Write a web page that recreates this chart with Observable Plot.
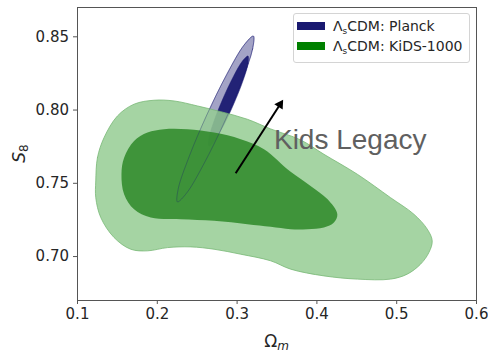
<!DOCTYPE html>
<html><head><meta charset="utf-8">
<script src="https://cdn.jsdelivr.net/npm/d3@7"></script>
<script src="https://cdn.jsdelivr.net/npm/@observablehq/plot@0.6"></script>
<style>
body{margin:0;background:#fff;}
#wrap{position:relative;width:488px;height:355px;}
.legend{position:absolute;left:293px;top:13px;width:175px;height:48px;border:1px solid #d4d4d4;border-radius:3px;background:rgba(255,255,255,0.8);font-family:"DejaVu Sans";font-size:14px;color:#262626;}
.item{position:absolute;left:3px;height:20px;display:flex;align-items:center;white-space:nowrap;}
.sw{width:28px;height:8px;margin-right:8px;}
.item sub{font-size:9px;vertical-align:-3px;line-height:0;}
</style></head>
<body>
<div id="wrap"></div>
<script>
// ---- data ----
const xTicks = [0.1, 0.2, 0.3, 0.4, 0.5, 0.6];
const yTicks = [0.70, 0.75, 0.80, 0.85];

const kidsOuterX = [0.1229,0.1250,0.1333,0.1501,0.1709,0.1959,0.2210,0.2503,0.2794,0.3129,0.3421,0.3796,0.4088,0.4506,0.4923,0.5215,0.5383,0.5445,0.5403,0.5299,0.5132,0.4923,0.4506,0.4088,0.3671,0.3421,0.3045,0.2711,0.2419,0.2127,0.1877,0.1667,0.1458,0.1292,0.1229];
const kidsOuterY = [0.7516,0.7675,0.7812,0.7960,0.8040,0.8067,0.8062,0.8028,0.7989,0.7937,0.7871,0.7796,0.7698,0.7562,0.7402,0.7289,0.7187,0.7107,0.7027,0.6948,0.6880,0.6846,0.6846,0.6868,0.6914,0.6971,0.7016,0.7050,0.7066,0.7061,0.7039,0.7050,0.7130,0.7266,0.7402];

const kidsInnerX = [0.1551,0.1584,0.1709,0.1877,0.2084,0.2377,0.2711,0.3045,0.3337,0.3671,0.3921,0.4131,0.4256,0.4213,0.4088,0.3880,0.3671,0.3421,0.3129,0.2711,0.2294,0.1918,0.1709,0.1584];
const kidsInnerY = [0.7562,0.7675,0.7789,0.7846,0.7869,0.7869,0.7846,0.7801,0.7733,0.7578,0.7482,0.7392,0.7289,0.7232,0.7198,0.7187,0.7187,0.7203,0.7221,0.7244,0.7255,0.7266,0.7323,0.7426];

const planckOuterX = [0.3204,0.3194,0.3059,0.2836,0.2584,0.2370,0.2252,0.2262,0.2397,0.2620,0.2872,0.3086];
const planckOuterY = [0.8505,0.8416,0.8199,0.7912,0.7633,0.7435,0.7373,0.7462,0.7679,0.7966,0.8245,0.8443];

const planckInnerX = [0.3136,0.3138,0.3074,0.2961,0.2830,0.2715,0.2648,0.2646,0.2710,0.2823,0.2954,0.3069];
const planckInnerY = [0.8369,0.8319,0.8201,0.8046,0.7894,0.7788,0.7755,0.7804,0.7923,0.8078,0.8229,0.8336];

const arrowX = [0.2982, 0.3538];
const arrowY = [0.7569, 0.8038];

const noteText = ["Kids Legacy"];
const noteX = [0.3462];
const noteY = [0.7737];

const legendLabels = ["Planck", "KiDS-1000"];

// ---- helpers ----
function shape(X, Y, opts) {
  return Plot.line(d3.range(X.length), {x: i => X[i], y: i => Y[i], curve: "catmull-rom-closed", ...opts});
}

const plot = Plot.plot({
  width: 488, height: 355,
  marginLeft: 77, marginRight: 12, marginTop: 7, marginBottom: 55,
  style: {fontFamily: "DejaVu Sans", fontSize: "15px", color: "#262626", background: "#fff"},
  x: {domain: [0.1, 0.6]},
  y: {domain: [0.67, 0.87]},
  marks: [
    shape(planckOuterX, planckOuterY, {fill: "#191970", fillOpacity: 0.4, stroke: "#191970", strokeOpacity: 0.45, strokeWidth: 1}),
    shape(planckInnerX, planckInnerY, {fill: "#1b1b72", fillOpacity: 0.95, stroke: "#191970", strokeOpacity: 0.5, strokeWidth: 1}),
    shape(kidsOuterX, kidsOuterY, {fill: "#95cc93", fillOpacity: 0.85, stroke: "#78b876", strokeOpacity: 0.8, strokeWidth: 1}),
    shape(kidsInnerX, kidsInnerY, {fill: "#2d8828", fillOpacity: 0.85, stroke: "none"}),
    shape(planckOuterX, planckOuterY, {fill: "none", stroke: "#191970", strokeOpacity: 0.3, strokeWidth: 1}),
    Plot.line(d3.range(arrowX.length), {x: i => arrowX[i], y: i => arrowY[i], stroke: "black", strokeWidth: 2, strokeLinecap: "butt"}),
    Plot.dot([arrowX.length - 1], {x: i => arrowX[i], y: i => arrowY[i], symbol: "triangle", r: 3.7, fill: "black", stroke: "none", rotate: 32.8}),
    Plot.text(noteText, {x: (d, i) => noteX[i], y: (d, i) => noteY[i], text: d => d, textAnchor: "start", lineAnchor: "bottom", fontSize: 28, fontFamily: "Liberation Sans", fill: "#606060"}),
    Plot.frame({stroke: "#555", strokeWidth: 1}),
    Plot.axisX({ticks: xTicks, tickFormat: d3.format(".1f"), tickSize: 4, tickPadding: 4, label: null, stroke: "#555", fill: "#262626", fontSize: 15}),
    Plot.axisY({ticks: yTicks, tickFormat: d3.format(".2f"), tickSize: 4, tickPadding: 4.5, label: null, stroke: "#555", fill: "#262626", fontSize: 15})
  ]
});

// axis titles with math-style subscripts
const svg = d3.select(plot);
const xr = plot.scale("x").range, yr = plot.scale("y").range;
const xl = svg.append("text")
  .attr("x", (xr[0] + xr[1]) / 2).attr("y", 346.5)
  .attr("text-anchor", "middle").attr("fill", "#262626")
  .style("font-family", "DejaVu Sans").style("font-size", "17px");
xl.append("tspan").text("Ω");
xl.append("tspan").attr("font-style", "italic").attr("font-size", "12px").attr("dy", 3).text("m");

const yl = svg.append("text")
  .attr("transform", `translate(25,${(yr[0] + yr[1]) / 2}) rotate(-90)`)
  .attr("text-anchor", "middle").attr("fill", "#262626")
  .style("font-family", "DejaVu Sans").style("font-size", "17px");
yl.append("tspan").attr("font-style", "italic").text("S");
yl.append("tspan").attr("font-size", "12px").attr("dy", 3).text("8");

const wrap = document.getElementById("wrap");
wrap.appendChild(plot);

// legend
const legend = document.createElement("div");
legend.className = "legend";
const swatchColors = ["#191970", "#008000"];
legendLabels.forEach((lab, i) => {
  const item = document.createElement("div");
  item.className = "item";
  item.style.top = (2 + i * 20) + "px";
  const sw = document.createElement("span");
  sw.className = "sw";
  sw.style.background = swatchColors[i];
  const t = document.createElement("span");
  t.innerHTML = "Λ<sub>s</sub>CDM: " + lab;
  item.appendChild(sw);
  item.appendChild(t);
  legend.appendChild(item);
});
wrap.appendChild(legend);
</script>
</body></html>
